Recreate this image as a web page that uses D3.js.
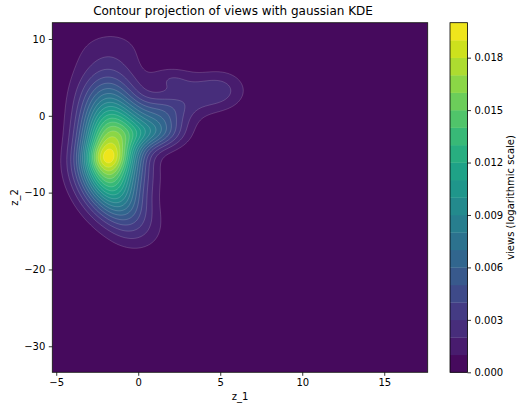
<!DOCTYPE html>
<html><head><meta charset="utf-8">
<script src="https://cdn.jsdelivr.net/npm/d3@7"></script>
<style>
body{margin:0;background:#fff}
text{font-family:"DejaVu Sans",sans-serif;fill:#000}
</style>
</head><body>
<svg id="c" width="520" height="404"></svg>
<script>
// Gaussian KDE kernels (centre, spread, peak height)
const kernelZ1   = [-1.6, -1.8, -1.9, -1.85, -1.85, -1.85, -1.9, -1.9, -1.95, -1.85, -1.55, -1.1, -0.5, 0.0, -1.95,
                    -0.5, -0.5, -0.5, -0.5,
                     0.3,  0.8,  1.2,  1.5,  3.3,  5.0,  2.0];
const kernelZ2   = [10.0,  8.0,  6.0,  4.0,  2.0,  0.0, -2.0, -4.0, -6.0, -8.0, -10.0, -12.0, -14.0, -16.0, -5.4,
                    -6.0, -4.0, -2.0,  0.0,
                    -8.0, -2.5, -1.0,  1.0,  2.6,  3.3,  4.8];
const kernelSd1  = [1.7, 1.6, 1.4, 1.3, 1.25, 1.2, 1.15, 1.15, 1.2, 1.2, 1.2, 1.2, 1.2, 1.2, 0.8,
                    0.9, 0.9, 0.9, 0.9,
                    1.0, 1.2, 1.2, 1.2, 1.1, 1.1, 0.9];
const kernelSd2  = [1.8, 1.8, 1.8, 1.8, 1.8, 1.8, 1.8, 1.8, 1.8, 1.8, 1.8, 1.8, 1.8, 1.8, 1.2,
                    1.8, 1.8, 1.8, 1.8,
                    1.8, 1.4, 1.6, 1.5, 1.8, 1.8, 1.1];
const kernelPeak = [0.0006, 0.0008, 0.0010, 0.0023, 0.0036, 0.0050, 0.0064, 0.0074, 0.0080, 0.0068, 0.00532, 0.00355, 0.00177, 0.0008, 0.0020,
                    0.0012, 0.0017, 0.0017, 0.0012,
                    0.0007, 0.0043, 0.0030, 0.0025, 0.0015, 0.0022, 0.0015];

const xExtent = [-5.24, 17.65];
const yExtent = [-33.39, 12.12];
const levels = [0,0.001,0.002,0.003,0.004,0.005,0.006,0.007,0.008,0.009,0.010,
                0.011,0.012,0.013,0.014,0.015,0.016,0.017,0.018,0.019,0.020];
const xTicks = [-5, 0, 5, 10, 15];
const yTicks = [10, 0, -10, -20, -30];
const cbTicks = [0, 0.003, 0.006, 0.009, 0.012, 0.015, 0.018];

const L = 52.3, R = 427.7, T = 22.7, B = 372.3;
const svg = d3.select("#c");
const x = d3.scaleLinear().domain(xExtent).range([L, R]);
const y = d3.scaleLinear().domain(yExtent).range([B, T]);
const nBands = levels.length - 1;
const bandColor = i => d3.interpolateViridis((i + 0.5) / nBands);

// density grid
const nx = 376, ny = 350;
const values = new Float64Array(nx * ny);
for (let j = 0; j < ny; j++) {
  const zy = yExtent[1] - (j + 0.5) * (yExtent[1] - yExtent[0]) / ny;
  for (let i = 0; i < nx; i++) {
    const zx = xExtent[0] + (i + 0.5) * (xExtent[1] - xExtent[0]) / nx;
    let v = 0;
    for (let k = 0; k < kernelZ1.length; k++) {
      const dx = (zx - kernelZ1[k]) / kernelSd1[k];
      const dy = (zy - kernelZ2[k]) / kernelSd2[k];
      v += kernelPeak[k] * Math.exp(-0.5 * (dx * dx + dy * dy));
    }
    values[j * nx + i] = v;
  }
}
const contours = d3.contours().size([nx, ny]).thresholds(levels.slice(0, nBands))(values);
const proj = d3.geoTransform({
  point: function(px, py) {
    const zx = xExtent[0] + px * (xExtent[1] - xExtent[0]) / nx;
    const zy = yExtent[1] - py * (yExtent[1] - yExtent[0]) / ny;
    this.stream.point(x(zx), y(zy));
  }
});
const path = d3.geoPath(proj);

svg.append("clipPath").attr("id", "clip").append("rect")
  .attr("x", L).attr("y", T).attr("width", R - L).attr("height", B - T);
const g = svg.append("g").attr("clip-path", "url(#clip)");
g.selectAll("path.band").data(contours).join("path")
  .attr("class", "band")
  .attr("d", path)
  .attr("fill", (d, i) => bandColor(i))
  .attr("stroke", (d, i) => i === 0 ? "none" : "rgba(255,255,255,0.28)")
  .attr("stroke-width", 0.6);

// frame
svg.append("rect").attr("x", L).attr("y", T).attr("width", R - L).attr("height", B - T)
  .attr("fill", "none").attr("stroke", "#000").attr("stroke-width", 0.8);

// axes
const xa = svg.append("g").attr("transform", `translate(0,${B})`)
  .call(d3.axisBottom(x).tickValues(xTicks).tickSize(3.5).tickPadding(3.5).tickSizeOuter(0));
const ya = svg.append("g").attr("transform", `translate(${L},0)`)
  .call(d3.axisLeft(y).tickValues(yTicks).tickSize(3.5).tickPadding(3.5).tickSizeOuter(0));
[xa, ya].forEach(a => {
  a.select(".domain").remove();
  a.selectAll("line").attr("stroke", "#000").attr("stroke-width", 0.8);
  a.selectAll("text").attr("font-size", 10).attr("font-family", "DejaVu Sans").attr("fill", "#000");
});

svg.append("text").attr("x", 233).attr("y", 15).attr("text-anchor", "middle")
  .attr("font-size", 12).text("Contour projection of views with gaussian KDE");
svg.append("text").attr("x", (L + R) / 2).attr("y", 400).attr("text-anchor", "middle")
  .attr("font-size", 10).text("z_1");
svg.append("text").attr("transform", `translate(18,${(T + B) / 2}) rotate(-90)`)
  .attr("text-anchor", "middle").attr("font-size", 10).text("z_2");

// colorbar
const cL = 450, cR = 467.5;
const cy = d3.scaleLinear().domain([levels[0], levels[nBands]]).range([B, T]);
const cb = svg.append("g");
cb.selectAll("rect").data(d3.range(nBands)).join("rect")
  .attr("x", cL).attr("width", cR - cL)
  .attr("y", i => cy(levels[i + 1])).attr("height", i => cy(levels[i]) - cy(levels[i + 1]) + 0.3)
  .attr("fill", i => bandColor(i));
svg.append("rect").attr("x", cL).attr("y", T).attr("width", cR - cL).attr("height", B - T)
  .attr("fill", "none").attr("stroke", "#000").attr("stroke-width", 0.8);
const ca = svg.append("g").attr("transform", `translate(${cR},0)`)
  .call(d3.axisRight(cy).tickValues(cbTicks).tickFormat(d3.format(".3f")).tickSize(3.5).tickPadding(3.5).tickSizeOuter(0));
ca.select(".domain").remove();
ca.selectAll("line").attr("stroke", "#000").attr("stroke-width", 0.8);
ca.selectAll("text").attr("font-size", 10).attr("font-family", "DejaVu Sans").attr("fill", "#000");
svg.append("text").attr("transform", `translate(514,${(T + B) / 2}) rotate(-90)`)
  .attr("text-anchor", "middle").attr("font-size", 10).text("views (logarithmic scale)");
</script>
</body></html>
